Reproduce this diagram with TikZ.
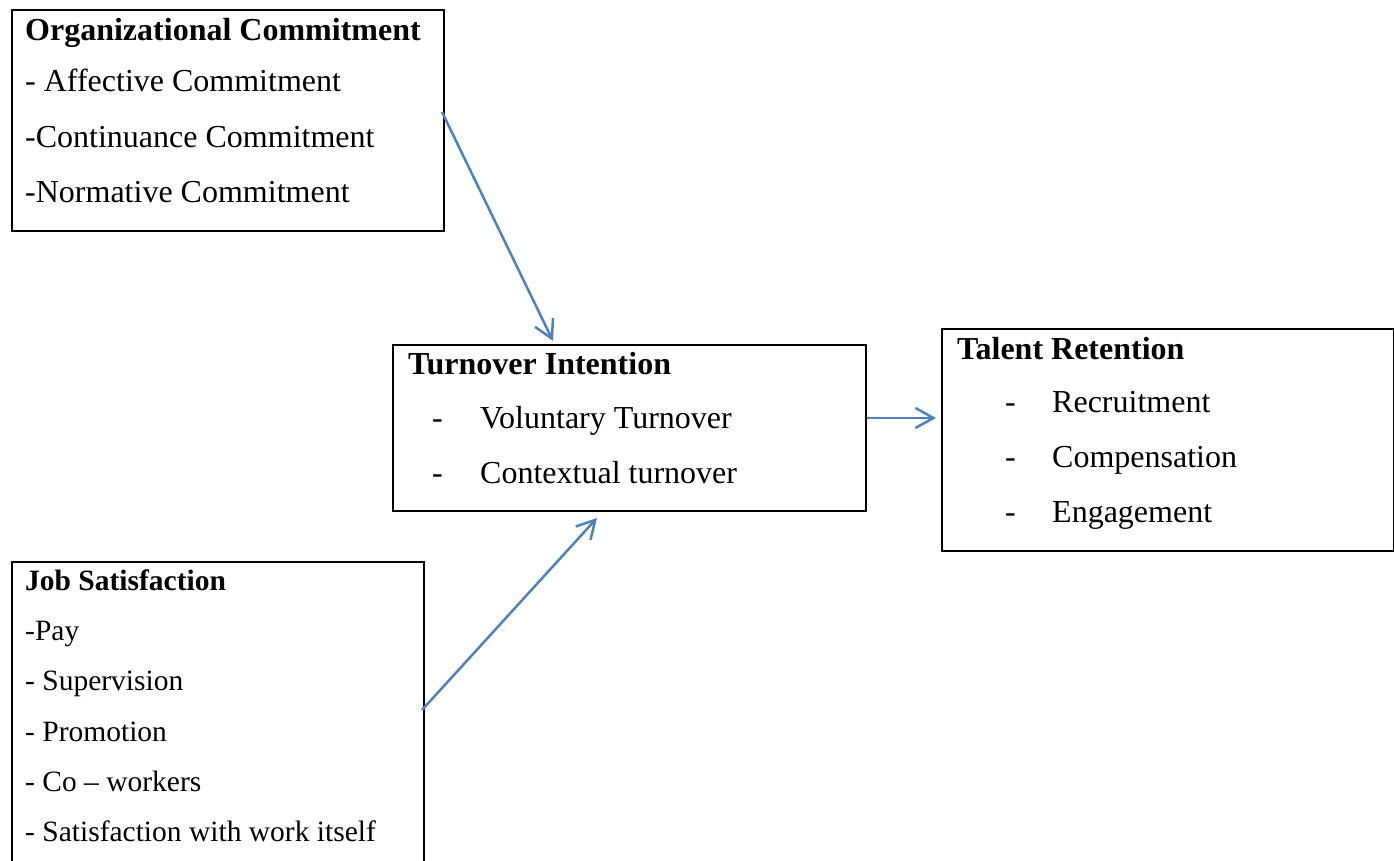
\documentclass[tikz,border=0pt]{standalone}
\usepackage{fontspec}
\setmainfont{Liberation Serif}
\usetikzlibrary{arrows.meta,calc}
\definecolor{arrowblue}{RGB}{79,129,189}
\begin{document}
\begin{tikzpicture}[x=1pt,y=-1pt,
  box/.style={draw=black,line width=2pt,rectangle,inner sep=0pt,anchor=north west},
  txt/.style={inner sep=0pt,anchor=base west,font=\fontsize{32}{36}\selectfont},
  ttl/.style={txt,font=\fontsize{32}{36}\selectfont\bfseries},
  stxt/.style={inner sep=0pt,anchor=base west,font=\fontsize{29.5}{34}\selectfont},
  sttl/.style={stxt,font=\fontsize{29.5}{34}\selectfont\bfseries},
  conn/.style={draw=arrowblue,line width=2.5pt,
    -{Straight Barb[length=18pt,width=20pt,line width=2.5pt]}}]
\useasboundingbox (0,0) rectangle (1394,861);
% boxes
\node[box,minimum width=432pt,minimum height=221pt] (oc) at (11,9) {};
\node[box,minimum width=473pt,minimum height=166pt] (ti) at (392,344) {};
\node[box,minimum width=452pt,minimum height=222pt] (tr) at (941,328) {};
\node[box,minimum width=412pt,minimum height=320pt] (js) at (11,561) {};
% Organizational Commitment
\node[ttl] (oct) at (25,41) {Organizational Commitment};
\node[txt] (oc1) at (25,92) {- Affective Commitment};
\node[txt] (oc2) at (25,148) {-Continuance Commitment};
\node[txt] (oc3) at (25,203) {-Normative Commitment};
% Turnover Intention
\node[ttl] (tit) at (408,374) {Turnover Intention};
\node[txt] (tid1) at (432,428) {-};
\node[txt] (ti1) at (480,428) {Voluntary Turnover};
\node[txt] (tid2) at (432,483) {-};
\node[txt] (ti2) at (480,483) {Contextual turnover};
% Talent Retention
\node[ttl] (trt) at (957,359) {Talent Retention};
\node[txt] (trd1) at (1005,412) {-};
\node[txt] (tr1) at (1052,412) {Recruitment};
\node[txt] (trd2) at (1005,467) {-};
\node[txt] (tr2) at (1052,467) {Compensation};
\node[txt] (trd3) at (1005,522) {-};
\node[txt] (tr3) at (1052,522) {Engagement};
% Job Satisfaction
\node[sttl] (jst) at (25,590) {Job Satisfaction};
\node[stxt] (js1) at (25,640) {-Pay};
\node[stxt] (js2) at (25,690) {- Supervision};
\node[stxt] (js3) at (25,741) {- Promotion};
\node[stxt] (js4) at (25,791) {- Co -- workers};
\node[stxt] (js5) at (25,841) {- Satisfaction with work itself};
% connectors
\draw[conn] ($(oc.north east)+(-3,103)$) -- ($(ti.north west)+(161,-3)$);
\draw[conn] ($(ti.north east)+(0,74)$) -- ($(tr.north west)+(-5,90)$);
\draw[conn] ($(js.north east)+(-3,149)$) -- ($(ti.south west)+(205,6)$);
\end{tikzpicture}
\end{document}
